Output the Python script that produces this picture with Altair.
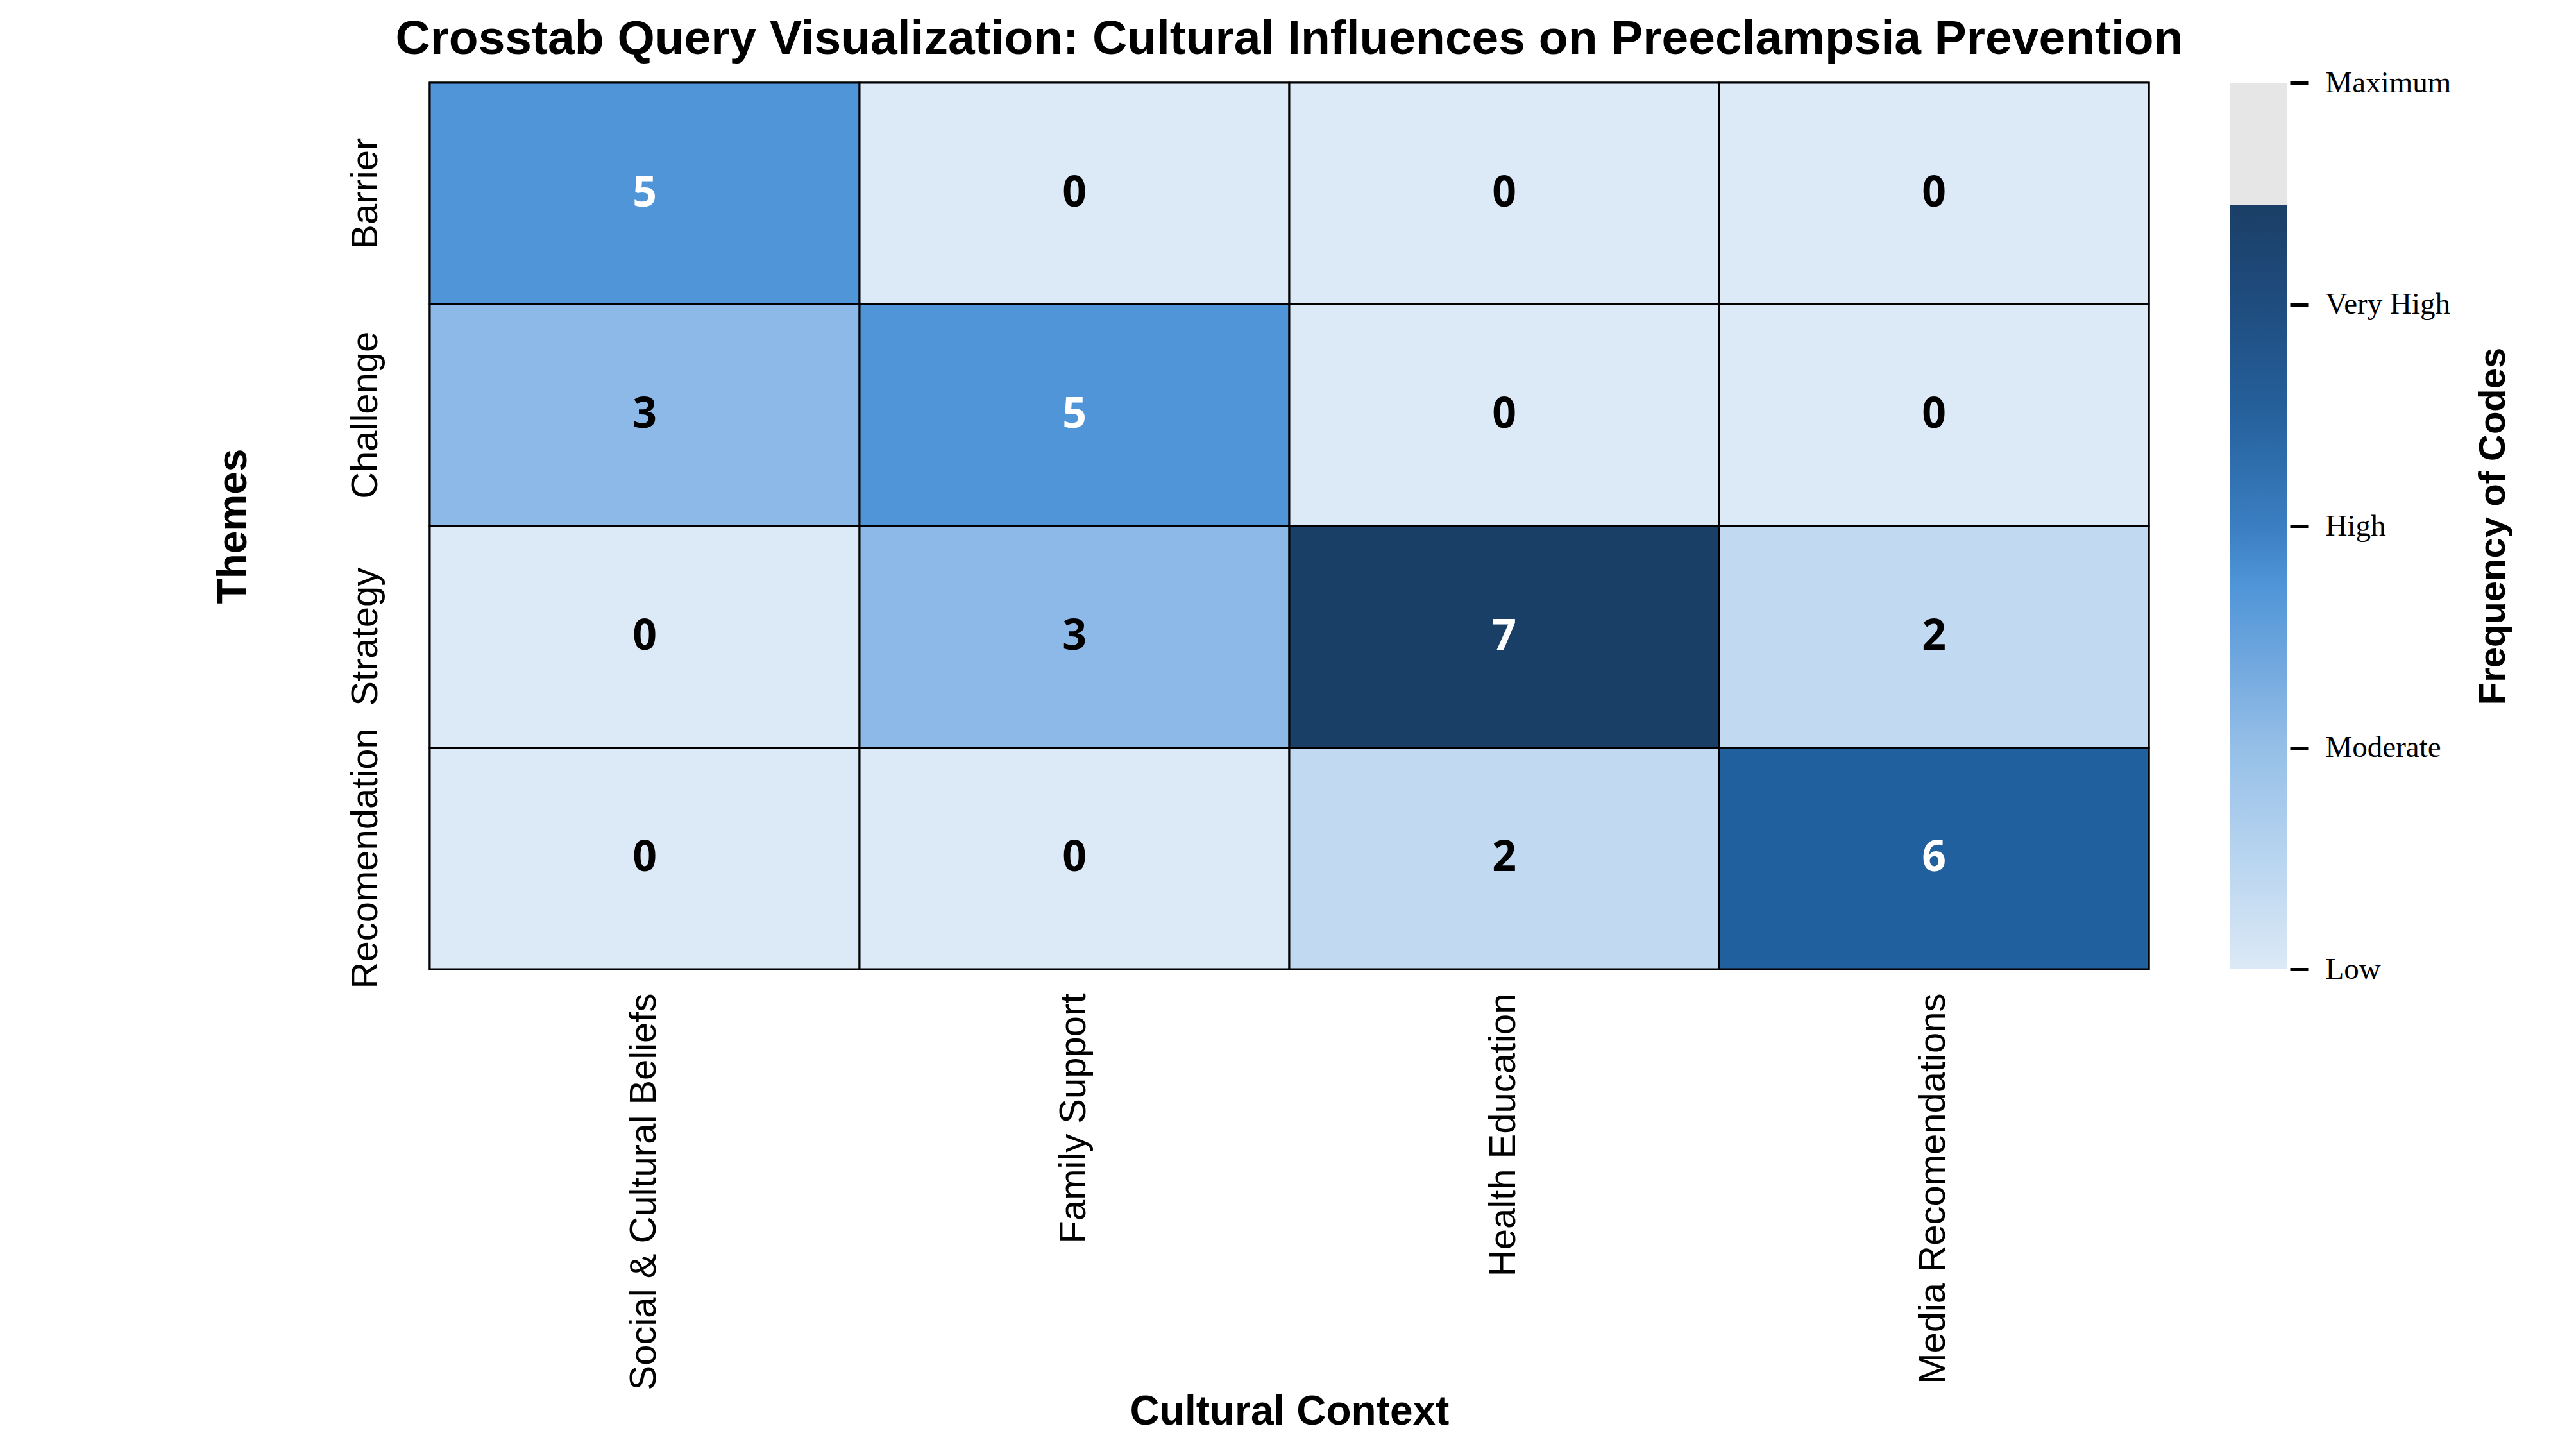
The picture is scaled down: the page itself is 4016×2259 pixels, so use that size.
import altair as alt
import pandas as pd

# Crosstab of coded interview themes against cultural context
themes = ["Barrier", "Challenge", "Strategy", "Recomendation"]
contexts = ["Social & Cultural Beliefs", "Family Support", "Health Education", "Media Recomendations"]
counts = {
    "Barrier":       [5, 0, 0, 0],
    "Challenge":     [3, 5, 0, 0],
    "Strategy":      [0, 3, 7, 2],
    "Recomendation": [0, 0, 2, 6],
}

# Cell shading per code frequency
cell_levels = [0, 2, 3, 5, 6, 7]
cell_colors = ["#dce9f6", "#c1daf1", "#8cb9e7", "#4f95d8", "#21609e", "#1a3f67"]

# Colour bar: qualitative tick labels and the gradient it shows
bar_ticks = [0, 2, 4, 6, 8]
bar_labels = ["Low", "Moderate", "High", "Very High", "Maximum"]
bar_segments_lo = [0, 6.9]
bar_segments_hi = [6.9, 8]
bar_segment_kind = ["gradient", "maximum"]
gradient_offsets = [0.0, 0.157, 0.29, 0.398, 0.502, 0.578, 0.72, 0.864, 1.0]
gradient_colors = ["#dce9f6", "#b5d3ef", "#95bfe7", "#72a8df", "#4f95d8",
                   "#3b7fc2", "#26629e", "#1f4d80", "#1b3f66"]
maximum_color = "#e6e6e6"

rows = []
for t in themes:
    for c, v in zip(contexts, counts[t]):
        rows.append({"theme": t, "context": c, "count": v})
df = pd.DataFrame(rows)

SANS = "Liberation Sans"
PLOT_W, PLOT_H = 2680, 1382
BAR_W = 88

base = alt.Chart(df).encode(
    x=alt.X(
        "context:N",
        sort=contexts,
        scale=alt.Scale(paddingInner=0, paddingOuter=0),
        axis=alt.Axis(
            title="Cultural Context",
            titleFont=SANS, titleFontSize=64, titleFontWeight="bold", titleColor="black",
            titleX=PLOT_W / 2, titleY=709, titleAlign="center", titleBaseline="alphabetic",
            labelFont=SANS, labelFontSize=58, labelColor="black", labelLimit=2000,
            labelAngle=270, labelAlign="right", labelBaseline="middle",
            labelPadding=37, ticks=False, domain=False, grid=False,
        ),
    ),
    y=alt.Y(
        "theme:N",
        sort=themes,
        scale=alt.Scale(paddingInner=0, paddingOuter=0),
        axis=alt.Axis(
            title="Themes",
            titleFont=SANS, titleFontSize=64, titleFontWeight="bold", titleColor="black",
            titleAngle=270, titleX=-287, titleY=PLOT_H / 2,
            titleAlign="center", titleBaseline="alphabetic",
            labelFont=SANS, labelFontSize=58, labelColor="black", labelLimit=2000,
            labelAngle=270, labelAlign="center", labelBaseline="alphabetic",
            labelPadding=83, ticks=False, domain=False, grid=False,
        ),
    ),
)

cells = base.mark_rect(stroke="black", strokeWidth=3).encode(
    color=alt.Color(
        "count:Q",
        scale=alt.Scale(domain=cell_levels, range=cell_colors, interpolate="rgb"),
        legend=None,
    )
)

labels = base.mark_text(font="Open Sans", fontWeight="bold", fontSize=66, baseline="middle").encode(
    text=alt.Text("count:Q", format="d"),
    color=alt.condition(alt.datum["count"] >= 5, alt.value("white"), alt.value("black")),
)

heatmap = alt.layer(cells, labels).properties(
    width=PLOT_W,
    height=PLOT_H,
    view=alt.ViewBackground(stroke="black", strokeWidth=3),
)

# Colour bar
bar_df = pd.DataFrame({"lo": bar_segments_lo, "hi": bar_segments_hi, "kind": bar_segment_kind})
label_expr = " : ".join(
    f"datum.value == {v} ? '{l}'" for v, l in zip(bar_ticks, bar_labels)
) + " : ''"

bar_y = alt.Y(
    "lo:Q",
    scale=alt.Scale(domain=[0, 8], nice=False, zero=True),
    axis=alt.Axis(
        orient="right", values=bar_ticks, labelExpr=label_expr,
        labelFont="Liberation Serif", labelFontSize=47, labelColor="black", labelLimit=2000,
        labelBaseline="middle", labelPadding=27,
        ticks=True, tickSize=28, tickWidth=5, tickColor="black",
        domain=False, grid=False, offset=5,
        title="Frequency of Codes",
        titleFont=SANS, titleFontSize=58, titleFontWeight="bold", titleColor="black",
        titleAngle=270, titleX=334, titleY=PLOT_H / 2,
        titleAlign="center", titleBaseline="alphabetic",
    ),
)

gradient = alt.LinearGradient(
    gradient="linear",
    stops=[alt.GradientStop(color=c, offset=o) for o, c in zip(gradient_offsets, gradient_colors)],
    x1=0, x2=0, y1=1, y2=0,
)

bar_grad = alt.Chart(bar_df).transform_filter(alt.datum.kind == "gradient").mark_rect(
    color=gradient
).encode(x=alt.value(0), x2=alt.value(BAR_W), y=bar_y, y2="hi:Q")

bar_max = alt.Chart(bar_df).transform_filter(alt.datum.kind == "maximum").mark_rect(
    color=maximum_color
).encode(x=alt.value(0), x2=alt.value(BAR_W), y=bar_y, y2="hi:Q")

colorbar = alt.layer(bar_grad, bar_max).properties(width=BAR_W, height=PLOT_H)

chart = alt.hconcat(heatmap, colorbar, spacing=127, bounds="flush").properties(
    title=alt.TitleParams(
        "Crosstab Query Visualization: Cultural Influences on Preeclampsia Prevention",
        font=SANS, fontSize=75, fontWeight="bold", color="black",
        anchor="start", baseline="alphabetic", offset=-54, dx=286,
    ),
    padding={"left": 330, "top": 23, "right": 0, "bottom": 0},
    background="white",
).configure_view(stroke="transparent")

chart.save("out.html", embed_options={"renderer": "svg", "actions": False})
